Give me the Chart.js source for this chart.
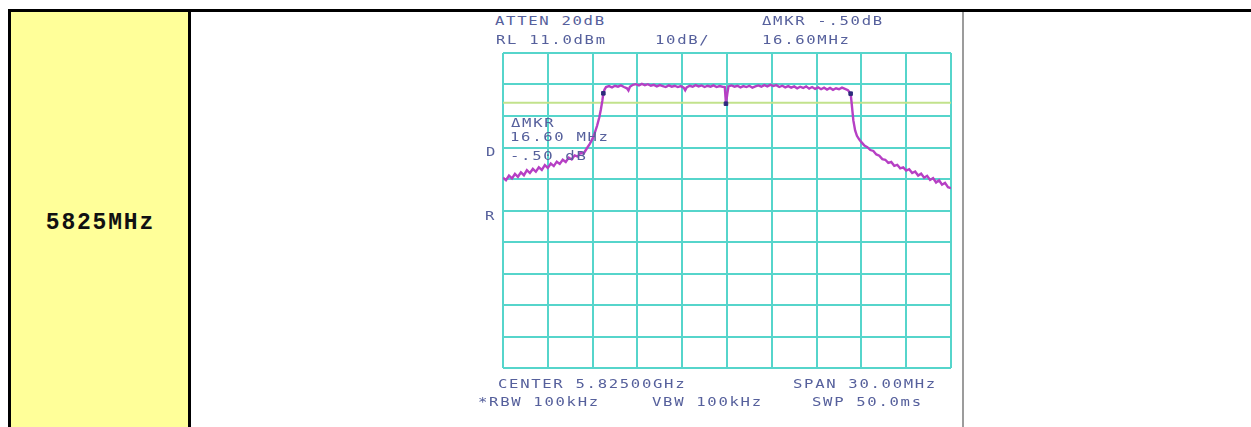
<!DOCTYPE html>
<html>
<head>
<meta charset="utf-8">
<title>5825MHz occupied bandwidth</title>
<script src="https://cdn.jsdelivr.net/npm/chart.js@4.4.1/dist/chart.umd.min.js"></script>
<style>
  html, body { margin: 0; padding: 0; background: #fff; }
  body { position: relative; width: 1251px; height: 427px; overflow: hidden; }
  .rule { position: absolute; background: #000; }
  #freqCell { position: absolute; left: 11px; top: 12px; width: 177px; height: 415px; background: #ffff99; }
  #freqLabel { position: absolute; left: 11px; width: 177px; top: 211px; text-align: center;
               font: bold 23px "Liberation Mono", "Courier New", monospace; letter-spacing: 1.8px;
               line-height: 24px; color: #111; text-indent: 1.8px; }
  #imgEdge { position: absolute; left: 962px; top: 12px; width: 2px; height: 415px; background: #9c9c9c; }
  #trace { position: absolute; left: 493px; top: 43px; }
  .ann { position: absolute; font: 13px "DejaVu Sans Mono", monospace; letter-spacing: 1.4px;
         color: #56609c; white-space: pre; line-height: 13px;
         transform: scaleX(1.2); transform-origin: 0 0; }
</style>
</head>
<body>
<!-- table frame -->
<div class="rule" style="left:8px;top:9px;width:1243px;height:3px"></div>
<div class="rule" style="left:8px;top:9px;width:3px;height:418px"></div>
<div id="freqCell"></div>
<div class="rule" style="left:188px;top:12px;width:3px;height:415px"></div>
<div id="freqLabel">5825MHz</div>
<div id="imgEdge"></div>

<canvas id="trace" width="468" height="335"></canvas>

<!-- analyzer annotations -->
<div class="ann" style="left:495px;top:14px">ATTEN 20dB</div>
<div class="ann" style="left:496px;top:33px">RL 11.0dBm</div>
<div class="ann" style="left:655px;top:33px">10dB/</div>
<div class="ann" style="left:762px;top:14px">ΔMKR -.50dB</div>
<div class="ann" style="left:762px;top:33px">16.60MHz</div>
<div class="ann" style="left:511px;top:116px">ΔMKR</div>
<div class="ann" style="left:510px;top:130px">16.60 MHz</div>
<div class="ann" style="left:510px;top:149px">-.50 dB</div>
<div class="ann" style="left:486px;top:145px">D</div>
<div class="ann" style="left:485px;top:209px">R</div>
<div class="ann" style="left:498px;top:377px">CENTER 5.82500GHz</div>
<div class="ann" style="left:793px;top:377px">SPAN 30.00MHz</div>
<div class="ann" style="left:478px;top:395px">*RBW 100kHz</div>
<div class="ann" style="left:652px;top:395px">VBW 100kHz</div>
<div class="ann" style="left:812px;top:395px">SWP 50.0ms</div>

<script>
// Sweep: center 5825 MHz, span 30 MHz, 10 dB/div from RL 11 dBm
const freqTicks = [5810, 5813, 5816, 5819, 5822, 5825, 5828, 5831, 5834, 5837, 5840];
const levelTicks = [11, 1, -9, -19, -29, -39, -49, -59, -69, -79, -89];

// Trace frequencies (MHz)
const freqMHz = [
  5810.0, 5810.2, 5810.4, 5810.6, 5810.8, 5811.0, 5811.2, 5811.4, 5811.6, 5811.8,
  5812.0, 5812.2, 5812.4, 5812.6, 5812.8, 5813.0, 5813.2, 5813.4, 5813.6, 5813.8,
  5814.0, 5814.2, 5814.4, 5814.6, 5814.8, 5815.0, 5815.2, 5815.4, 5815.6, 5815.8,
  5816.0, 5816.15, 5816.3, 5816.45, 5816.55, 5816.65, 5816.72,
  5816.8, 5816.9, 5817.1, 5817.3, 5817.5, 5817.7, 5817.9, 5818.1, 5818.3, 5818.4,
  5818.5, 5818.7, 5818.9, 5819.1, 5819.3, 5819.5, 5819.7, 5819.9, 5820.1, 5820.3,
  5820.5, 5820.7, 5820.9, 5821.1, 5821.3, 5821.5, 5821.7, 5821.9, 5822.1, 5822.2,
  5822.3, 5822.5, 5822.7, 5822.9, 5823.1, 5823.3, 5823.5, 5823.7, 5823.9, 5824.1,
  5824.3, 5824.5, 5824.7, 5824.85, 5824.9, 5824.93, 5825.02, 5825.1,
  5825.3, 5825.5, 5825.7, 5825.9, 5826.1, 5826.3, 5826.5, 5826.7, 5826.9, 5827.1,
  5827.3, 5827.5, 5827.7, 5827.9, 5828.1, 5828.3, 5828.5, 5828.7, 5828.9, 5829.1,
  5829.3, 5829.5, 5829.7, 5829.9, 5830.1, 5830.3, 5830.5, 5830.7, 5830.9, 5831.1,
  5831.3, 5831.5, 5831.7, 5831.9, 5832.1, 5832.3, 5832.5, 5832.7, 5832.9, 5833.1,
  5833.28, 5833.35, 5833.46, 5833.58, 5833.7, 5833.85, 5834.0, 5834.2, 5834.4, 5834.6,
  5834.8, 5835.0, 5835.2, 5835.4, 5835.6, 5835.8, 5836.0, 5836.2, 5836.4, 5836.6,
  5836.8, 5837.0, 5837.2, 5837.4, 5837.6, 5837.8, 5838.0, 5838.2, 5838.4, 5838.6,
  5838.8, 5839.0, 5839.2, 5839.4, 5839.6, 5839.8, 5840.0
];

// Trace levels (dBm)
const levelDbm = [
  -28.6, -29.4, -27.9, -28.8, -27.4, -28.3, -26.9, -27.8, -26.2, -27.1,
  -25.8, -26.7, -25.3, -26.1, -24.6, -25.5, -24.1, -24.9, -23.5, -24.2,
  -22.9, -23.6, -22.2, -22.8, -21.5, -21.9, -20.6, -20.9, -19.4, -17.9,
  -16.2, -14.3, -12.1, -9.4, -7.0, -4.2, -1.8,
  -0.6, 0.2, 0.5, 0.1, 0.6, 0.3, 0.7, 0.2, -0.2, -0.9,
  0.3, 0.9, 1.1, 0.7, 1.2, 0.8, 1.1, 0.6, 0.9, 0.4,
  0.8, 0.5, 0.2, 0.7, 0.3, 0.6, 0.2, 0.5, 0.0, -0.8,
  0.1, 0.6, 0.3, 0.8, 0.4, 0.7, 0.2, 0.6, 0.3, 0.7,
  0.2, 0.5, 0.3, 0.2, -3.0, -5.1, -2.0, 0.4,
  0.7, 0.3, 0.6, 0.1, 0.5, 0.2, 0.6, 0.0, 0.4, 0.7,
  0.3, 0.8, 0.4, 0.9, 0.5, 0.8, 0.2, 0.6, 0.1, 0.5,
  0.0, 0.4, -0.2, 0.3, -0.1, 0.4, -0.3, 0.2, -0.4, 0.1,
  -0.5, 0.0, -0.6, -0.1, -0.7, -0.2, -0.5, 0.0, -0.4, -0.8,
  -1.9, -5.1, -10.4, -13.6, -15.3, -16.4, -17.3, -18.4, -18.9, -19.8,
  -20.1, -21.2, -21.6, -22.7, -22.9, -23.9, -23.6, -24.8, -24.5, -25.6,
  -25.3, -26.3, -25.9, -27.1, -26.6, -27.9, -27.3, -28.6, -28.0, -29.3,
  -28.7, -30.1, -29.4, -30.8, -30.2, -31.6, -31.9
];

// Delta marker pair and the notch marker
const markerFreq = [5816.72, 5824.93, 5833.28];
const markerLevel = [-1.8, -5.1, -1.9];

// Display line
const displayLineDbm = -4.8;

const gridColor = '#56d5cb';

const pairs = (xs, ys) => xs.map((x, i) => ({ x, y: ys[i] }));

new Chart(document.getElementById('trace'), {
  type: 'line',
  data: {
    datasets: [
      {
        data: [{ x: freqTicks[0], y: displayLineDbm }, { x: freqTicks[freqTicks.length - 1], y: displayLineDbm }],
        borderColor: '#c2e28c', borderWidth: 2, pointRadius: 0, order: 3
      },
      {
        data: pairs(freqMHz, levelDbm),
        borderColor: '#b63fc4', borderWidth: 2.4, pointRadius: 0, tension: 0, order: 2
      },
      {
        data: pairs(markerFreq, markerLevel),
        showLine: false, pointStyle: 'rect', pointRadius: 2.5,
        backgroundColor: '#2e2c7c', borderColor: '#2e2c7c', borderWidth: 1, order: 1
      }
    ]
  },
  options: {
    responsive: false,
    animation: false,
    layout: { padding: { left: 10, right: 10, top: 10, bottom: 10 } },
    plugins: { legend: { display: false }, tooltip: { enabled: false } },
    scales: {
      x: {
        type: 'linear', min: freqTicks[0], max: freqTicks[freqTicks.length - 1],
        afterBuildTicks: s => { s.ticks = freqTicks.map(v => ({ value: v })); },
        ticks: { display: false },
        grid: { color: gridColor, lineWidth: 2, drawTicks: false },
        border: { display: false }
      },
      y: {
        type: 'linear', min: levelTicks[levelTicks.length - 1], max: levelTicks[0],
        afterBuildTicks: s => { s.ticks = levelTicks.slice().reverse().map(v => ({ value: v })); },
        ticks: { display: false },
        grid: { color: gridColor, lineWidth: 2, drawTicks: false },
        border: { display: false }
      }
    }
  }
});
</script>
</body>
</html>
